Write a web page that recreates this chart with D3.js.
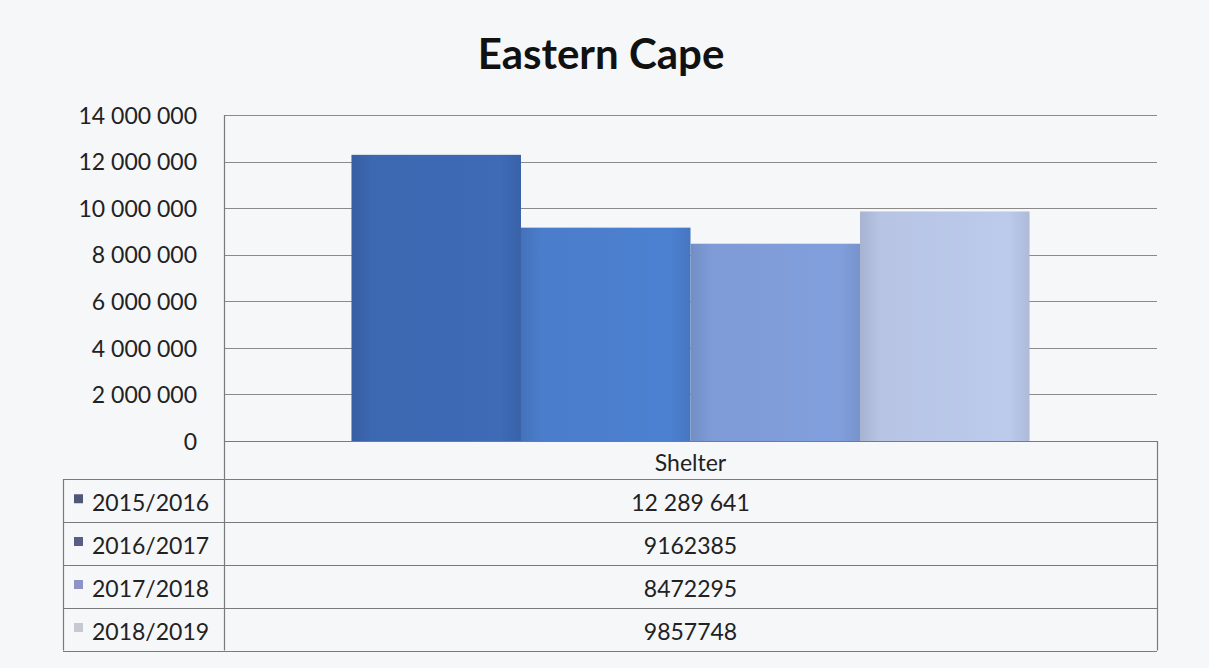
<!DOCTYPE html>
<html>
<head>
<meta charset="utf-8">
<script src="https://cdn.jsdelivr.net/npm/d3@7"></script>
<style>
  html, body { margin: 0; padding: 0; background: #f6f7f9; }
  svg { display: block; }
</style>
</head>
<body>
<svg id="chart" width="1209" height="668"></svg>
<script>
const title = "Eastern Cape";
const categories = ["Shelter"];
const series = ["2015/2016", "2016/2017", "2017/2018", "2018/2019"];
const values = [12289641, 9162385, 8472295, 9857748];
const valueLabels = ["12 289 641", "9162385", "8472295", "9857748"];
const tickValues = [0, 2000000, 4000000, 6000000, 8000000, 10000000, 12000000, 14000000];
const barColors = ["#3c67b1", "#4a7dcb", "#7e9bd7", "#b7c4e4"];
const markerColors = ["#4f5878", "#595e88", "#8f92c6", "#c6c8d2"];

(function () {
const svg = d3.select("#chart");
const W = 1209, H = 668;
const plotLeft = 224, plotRight = 1157, plotTop = 115, zeroY = 441;
const rowH = [38, 42.5, 43, 43, 43];
const font = "Lato, 'Open Sans', sans-serif";
const fs = 23;

svg.append("rect").attr("width", W).attr("height", H).attr("fill", "#f6f7f9");

// Title
svg.append("text").attr("x", 601).attr("y", 69)
  .attr("text-anchor", "middle")
  .attr("font-family", font).attr("font-weight", "bold")
  .attr("font-size", 42).attr("fill", "#111")
  .text(title);

const y = d3.scaleLinear().domain([0, 14000000]).range([zeroY, plotTop]);
const x0 = d3.scaleBand().domain(categories).range([plotLeft, plotRight]).padding(0);
const x1 = d3.scaleBand().domain(series).range([0, x0.bandwidth()]).paddingInner(0).paddingOuter(0.752);

const fmt = v => d3.format(",")(v).replace(/,/g, " ");

// gridlines
svg.append("g").selectAll("line").data(tickValues.filter(d => d > 0)).join("line")
  .attr("x1", plotLeft).attr("x2", plotRight)
  .attr("y1", d => Math.round(y(d)) + 0.5).attr("y2", d => Math.round(y(d)) + 0.5)
  .attr("stroke", "#8a8a8a").attr("stroke-width", 1);

// y tick labels
svg.append("g").selectAll("text").data(tickValues).join("text")
  .attr("x", 197).attr("y", d => y(d))
  .attr("dy", "0.38em")
  .attr("text-anchor", "end")
  .attr("font-family", font).attr("font-size", fs).attr("fill", "#222")
  .text(d => fmt(d));

// gradients
const defs = svg.append("defs");
barColors.forEach((c, i) => {
  const g = defs.append("linearGradient").attr("id", "g" + i).attr("x1", 0).attr("x2", 1).attr("y1", 0).attr("y2", 0);
  g.append("stop").attr("offset", "0%").attr("stop-color", d3.color(c).darker(0.25));
  g.append("stop").attr("offset", "12%").attr("stop-color", c);
  g.append("stop").attr("offset", "88%").attr("stop-color", d3.color(c).brighter(0.08));
  g.append("stop").attr("offset", "100%").attr("stop-color", d3.color(c).darker(0.15));
});

// bars
const data = series.map((s, i) => ({ s, v: values[i], i }));
svg.append("g").selectAll("rect").data(data).join("rect")
  .attr("x", d => x0(categories[0]) + x1(d.s))
  .attr("y", d => y(d.v))
  .attr("width", x1.bandwidth())
  .attr("height", d => zeroY - y(d.v))
  .attr("fill", d => "url(#g" + d.i + ")");

const rowsY = [zeroY];
rowH.forEach(h => rowsY.push(rowsY[rowsY.length - 1] + h));
const bottom = rowsY[rowsY.length - 1];
const tableLeft = 63;
const lineColor = "#7a7a7a";

svg.append("line").attr("x1", plotLeft + 0.5).attr("x2", plotLeft + 0.5).attr("y1", plotTop).attr("y2", bottom)
  .attr("stroke", lineColor).attr("stroke-width", 1.2);
svg.append("line").attr("x1", plotLeft).attr("x2", plotRight).attr("y1", zeroY + 0.5).attr("y2", zeroY + 0.5)
  .attr("stroke", lineColor).attr("stroke-width", 1.2);
svg.append("line").attr("x1", plotRight + 0.5).attr("x2", plotRight + 0.5).attr("y1", zeroY).attr("y2", bottom)
  .attr("stroke", lineColor).attr("stroke-width", 1.2);
svg.append("line").attr("x1", tableLeft + 0.5).attr("x2", tableLeft + 0.5).attr("y1", rowsY[1]).attr("y2", bottom)
  .attr("stroke", lineColor).attr("stroke-width", 1.2);
svg.append("g").selectAll("line").data(rowsY.slice(1)).join("line")
  .attr("x1", tableLeft).attr("x2", plotRight)
  .attr("y1", d => Math.round(d) + 0.5).attr("y2", d => Math.round(d) + 0.5)
  .attr("stroke", lineColor).attr("stroke-width", 1.2);

svg.append("text").attr("x", x0(categories[0]) + x0.bandwidth() / 2)
  .attr("y", (rowsY[0] + rowsY[1]) / 2 + 2).attr("dy", "0.38em")
  .attr("text-anchor", "middle").attr("font-family", font).attr("font-size", fs).attr("fill", "#222")
  .text(categories[0]);

const rows = svg.append("g").selectAll("g").data(data).join("g");
rows.append("rect")
  .attr("x", 74).attr("y", d => (rowsY[d.i + 1] + rowsY[d.i + 2]) / 2 - 6)
  .attr("width", 9).attr("height", 9)
  .attr("fill", d => markerColors[d.i]);
rows.append("text")
  .attr("x", 92).attr("y", d => (rowsY[d.i + 1] + rowsY[d.i + 2]) / 2 + 2).attr("dy", "0.38em")
  .attr("font-family", font).attr("font-size", fs).attr("fill", "#222")
  .text(d => d.s);
rows.append("text")
  .attr("x", x0(categories[0]) + x0.bandwidth() / 2)
  .attr("y", d => (rowsY[d.i + 1] + rowsY[d.i + 2]) / 2 + 2).attr("dy", "0.38em")
  .attr("text-anchor", "middle")
  .attr("font-family", font).attr("font-size", fs).attr("fill", "#222")
  .text(d => valueLabels[d.i]);
})();
</script>
</body>
</html>
